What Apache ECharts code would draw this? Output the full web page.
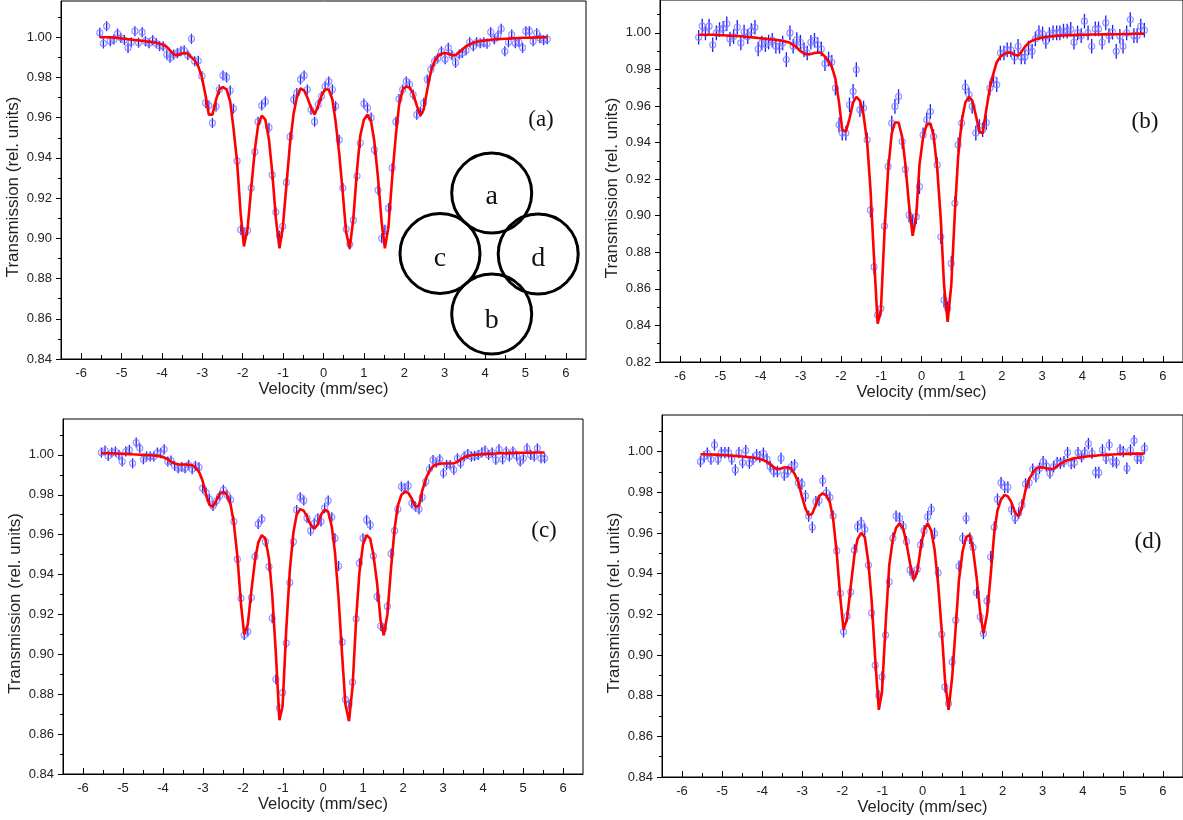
<!DOCTYPE html>
<html><head><meta charset="utf-8">
<script src="https://cdn.jsdelivr.net/npm/echarts@6.0.0/dist/echarts.min.js"></script>
<style>html,body{margin:0;padding:0;background:#fff}#c{width:1183px;height:820px}</style>
</head><body><div id="c"></div><script>
// Velocity channels (mm/sec), shared by all four spectra
const velocity = [-5.54,-5.45,-5.37,-5.28,-5.19,-5.10,-5.02,-4.93,-4.84,-4.76,
-4.67,-4.58,-4.49,-4.41,-4.32,-4.23,-4.14,-4.06,-3.97,-3.88,
-3.80,-3.71,-3.62,-3.53,-3.45,-3.36,-3.27,-3.19,-3.10,-3.01,
-2.92,-2.84,-2.75,-2.66,-2.58,-2.49,-2.40,-2.31,-2.23,-2.14,
-2.05,-1.97,-1.88,-1.79,-1.70,-1.62,-1.53,-1.44,-1.35,-1.27,
-1.18,-1.09,-1.01,-0.92,-0.83,-0.74,-0.66,-0.57,-0.48,-0.40,
-0.31,-0.22,-0.13,-0.05,0.04,0.13,0.22,0.30,0.39,0.48,
0.56,0.65,0.74,0.83,0.91,1.00,1.09,1.18,1.26,1.35,
1.44,1.52,1.61,1.70,1.79,1.87,1.96,2.05,2.13,2.22,
2.31,2.40,2.48,2.57,2.66,2.75,2.83,2.92,3.01,3.09,
3.18,3.27,3.36,3.44,3.53,3.62,3.71,3.79,3.88,3.97,
4.05,4.14,4.23,4.32,4.40,4.49,4.58,4.66,4.75,4.84,
4.93,5.01,5.10,5.19,5.28,5.36,5.45,5.54];

// Panel (a)
const dataA = [1.0022,0.9969,1.0055,0.9980,0.9989,1.0018,0.9997,0.9986,0.9947,0.9975,
1.0030,0.9973,1.0025,0.9980,0.9970,0.9985,0.9970,0.9956,0.9955,0.9914,
0.9898,0.9914,0.9920,0.9930,0.9935,0.9910,0.9992,0.9880,0.9883,0.9806,
0.9673,0.9660,0.9574,0.9655,0.9740,0.9810,0.9800,0.9735,0.9645,0.9385,
0.9043,0.9030,0.9040,0.9250,0.9430,0.9580,0.9660,0.9680,0.9550,0.9315,
0.9130,0.9013,0.9060,0.9278,0.9504,0.9690,0.9723,0.9790,0.9810,0.9740,
0.9640,0.9580,0.9665,0.9706,0.9756,0.9780,0.9740,0.9657,0.9490,0.9250,
0.9046,0.8970,0.9090,0.9310,0.9474,0.9670,0.9649,0.9600,0.9440,0.9240,
0.9000,0.9043,0.9150,0.9350,0.9580,0.9693,0.9740,0.9780,0.9765,0.9715,
0.9615,0.9630,0.9673,0.9790,0.9840,0.9880,0.9895,0.9930,0.9890,0.9947,
0.9910,0.9873,0.9914,0.9922,0.9935,0.9975,0.9955,0.9975,0.9970,0.9975,
0.9968,1.0025,0.9990,1.0008,1.0042,0.9930,0.9975,1.0013,0.9970,0.9975,
0.9947,1.0030,1.0030,0.9980,1.0020,0.9995,0.9985,0.9990];
const fitA = [1.0000,1.0000,1.0000,1.0000,0.9998,0.9996,0.9994,0.9992,0.9990,0.9988,
0.9986,0.9984,0.9982,0.9980,0.9978,0.9975,0.9972,0.9968,0.9962,0.9952,
0.9935,0.9915,0.9910,0.9918,0.9922,0.9918,0.9900,0.9885,0.9855,0.9800,
0.9710,0.9615,0.9615,0.9690,0.9740,0.9752,0.9740,0.9680,0.9550,0.9380,
0.9120,0.8960,0.9050,0.9250,0.9440,0.9560,0.9610,0.9590,0.9490,0.9330,
0.9100,0.8950,0.9050,0.9260,0.9470,0.9620,0.9700,0.9745,0.9735,0.9700,
0.9650,0.9615,0.9660,0.9710,0.9740,0.9740,0.9690,0.9580,0.9420,0.9220,
0.9030,0.8950,0.9100,0.9340,0.9510,0.9590,0.9615,0.9580,0.9480,0.9300,
0.9080,0.8950,0.9060,0.9300,0.9510,0.9660,0.9740,0.9755,0.9750,0.9720,
0.9660,0.9610,0.9640,0.9740,0.9830,0.9880,0.9905,0.9918,0.9922,0.9918,
0.9910,0.9910,0.9925,0.9940,0.9955,0.9965,0.9972,0.9978,0.9980,0.9983,
0.9985,0.9987,0.9989,0.9990,0.9991,0.9992,0.9993,0.9994,0.9995,0.9996,
0.9997,0.9997,0.9998,0.9998,0.9999,0.9999,1.0000,1.0000];
const errA = 0.0025;

// Panel (b)
const dataB = [0.9976,1.0037,1.0000,1.0037,0.9935,1.0000,1.0018,1.0025,1.0050,0.9967,
0.9980,1.0031,0.9945,1.0005,0.9980,1.0013,1.0031,0.9912,0.9945,0.9936,
0.9950,0.9960,0.9927,0.9927,0.9945,0.9854,1.0000,0.9927,0.9963,0.9949,
0.9908,0.9890,0.9949,0.9960,0.9936,0.9912,0.9832,0.9857,0.9839,0.9698,
0.9497,0.9452,0.9452,0.9607,0.9680,0.9799,0.9580,0.9589,0.9415,0.9031,
0.8720,0.8456,0.8492,0.8944,0.9269,0.9507,0.9598,0.9652,0.9406,0.9254,
0.9004,0.8967,0.8995,0.9159,0.9442,0.9525,0.9570,0.9433,0.9278,0.8885,
0.8538,0.8492,0.8739,0.9068,0.9388,0.9507,0.9704,0.9662,0.9598,0.9452,
0.9488,0.9470,0.9510,0.9698,0.9744,0.9717,0.9890,0.9890,0.9908,0.9908,
0.9868,0.9927,0.9868,0.9868,0.9918,0.9899,0.9967,1.0000,0.9995,0.9954,
0.9991,1.0000,1.0000,1.0000,1.0010,1.0010,1.0020,0.9949,1.0000,0.9985,
1.0064,1.0000,0.9927,1.0022,1.0022,0.9949,1.0055,0.9985,1.0004,0.9899,
0.9982,0.9927,1.0000,1.0073,0.9985,0.9985,1.0037,1.0015];
const fitB = [0.9990,0.9990,0.9990,0.9990,0.9990,0.9989,0.9988,0.9987,0.9986,0.9985,
0.9984,0.9983,0.9982,0.9980,0.9978,0.9976,0.9974,0.9972,0.9970,0.9968,
0.9966,0.9964,0.9962,0.9960,0.9956,0.9952,0.9946,0.9935,0.9920,0.9900,
0.9888,0.9883,0.9885,0.9890,0.9893,0.9890,0.9870,0.9845,0.9815,0.9750,
0.9620,0.9470,0.9460,0.9530,0.9620,0.9650,0.9630,0.9550,0.9400,0.9150,
0.8770,0.8410,0.8480,0.8910,0.9250,0.9450,0.9510,0.9510,0.9430,0.9280,
0.9060,0.8890,0.9000,0.9280,0.9430,0.9500,0.9505,0.9440,0.9260,0.8980,
0.8620,0.8420,0.8620,0.9020,0.9320,0.9520,0.9620,0.9650,0.9630,0.9550,
0.9460,0.9450,0.9580,0.9700,0.9780,0.9840,0.9870,0.9885,0.9892,0.9893,
0.9880,0.9876,0.9895,0.9925,0.9945,0.9958,0.9965,0.9970,0.9975,0.9978,
0.9980,0.9982,0.9984,0.9985,0.9986,0.9987,0.9988,0.9988,0.9989,0.9989,
0.9990,0.9990,0.9991,0.9991,0.9991,0.9992,0.9992,0.9992,0.9993,0.9993,
0.9993,0.9994,0.9994,0.9994,0.9995,0.9995,0.9995,0.9995];
const errB = 0.004;

// Panel (c)
const dataC = [1.0012,1.0022,0.9995,1.0012,1.0017,1.0000,0.9967,1.0017,1.0025,0.9958,
1.0062,1.0034,0.9978,0.9992,0.9992,0.9992,1.0012,1.0008,1.0028,0.9967,
0.9972,0.9945,0.9933,0.9940,0.9933,0.9950,0.9928,0.9945,0.9938,0.9833,
0.9811,0.9778,0.9744,0.9770,0.9795,0.9825,0.9800,0.9775,0.9666,0.9477,
0.9281,0.9097,0.9114,0.9285,0.9490,0.9654,0.9678,0.9565,0.9440,0.9181,
0.8875,0.8730,0.8808,0.9056,0.9360,0.9565,0.9724,0.9788,0.9771,0.9683,
0.9620,0.9657,0.9683,0.9666,0.9733,0.9771,0.9688,0.9582,0.9443,0.9061,
0.8774,0.8749,0.8860,0.9178,0.9457,0.9582,0.9674,0.9649,0.9494,0.9289,
0.9142,0.9130,0.9240,0.9504,0.9620,0.9728,0.9841,0.9833,0.9845,0.9758,
0.9741,0.9728,0.9788,0.9866,0.9928,0.9975,0.9961,0.9978,0.9908,0.9950,
0.9950,0.9925,0.9983,0.9958,0.9992,1.0005,0.9992,0.9995,1.0000,1.0012,
1.0022,1.0000,1.0012,0.9975,1.0028,0.9978,1.0017,0.9992,1.0017,0.9995,
0.9967,0.9983,1.0033,1.0000,0.9992,1.0033,0.9983,0.9983];
const fitC = [1.0008,1.0008,1.0008,1.0008,1.0007,1.0006,1.0005,1.0005,1.0004,1.0003,
1.0002,1.0001,1.0000,0.9999,0.9998,0.9997,0.9995,0.9992,0.9987,0.9978,
0.9966,0.9957,0.9953,0.9952,0.9952,0.9951,0.9948,0.9938,0.9915,0.9870,
0.9800,0.9750,0.9740,0.9775,0.9805,0.9815,0.9800,0.9750,0.9660,0.9490,
0.9250,0.9100,0.9150,0.9320,0.9470,0.9560,0.9598,0.9580,0.9480,0.9300,
0.9010,0.8670,0.8740,0.9120,0.9420,0.9610,0.9700,0.9728,0.9720,0.9690,
0.9650,0.9630,0.9650,0.9700,0.9725,0.9715,0.9640,0.9510,0.9280,0.8990,
0.8750,0.8665,0.8840,0.9180,0.9410,0.9550,0.9598,0.9580,0.9500,0.9360,
0.9170,0.9095,0.9200,0.9430,0.9630,0.9745,0.9800,0.9815,0.9810,0.9780,
0.9740,0.9745,0.9820,0.9880,0.9920,0.9942,0.9952,0.9956,0.9957,0.9957,
0.9957,0.9958,0.9965,0.9978,0.9988,0.9994,0.9998,1.0000,1.0002,1.0003,
1.0004,1.0005,1.0006,1.0007,1.0008,1.0008,1.0009,1.0010,1.0010,1.0010,
1.0011,1.0011,1.0011,1.0011,1.0012,1.0012,1.0012,1.0012];
const errC = 0.0025;

// Panel (d)
const dataD = [0.9951,0.9975,0.9992,0.9963,1.0033,0.9963,0.9995,0.9995,0.9995,0.9963,
0.9910,0.9995,0.9946,1.0005,0.9943,0.9963,0.9984,0.9975,0.9992,0.9963,
0.9926,0.9902,0.9902,0.9967,0.9885,0.9902,0.9926,0.9935,0.9847,0.9841,
0.9782,0.9683,0.9628,0.9754,0.9759,0.9857,0.9798,0.9775,0.9683,0.9513,
0.9303,0.9114,0.9191,0.9311,0.9516,0.9631,0.9650,0.9618,0.9442,0.9207,
0.8950,0.8800,0.8892,0.9098,0.9360,0.9574,0.9683,0.9672,0.9631,0.9557,
0.9418,0.9388,0.9421,0.9541,0.9611,0.9680,0.9716,0.9598,0.9404,0.9102,
0.8843,0.8761,0.8966,0.9171,0.9437,0.9574,0.9672,0.9574,0.9529,0.9306,
0.9188,0.9106,0.9266,0.9483,0.9628,0.9766,0.9847,0.9825,0.9825,0.9716,
0.9672,0.9697,0.9738,0.9841,0.9847,0.9913,0.9877,0.9918,0.9951,0.9930,
0.9894,0.9926,0.9946,0.9943,0.9951,0.9995,0.9941,0.9946,0.9995,0.9975,
0.9995,1.0039,0.9992,0.9897,0.9897,1.0008,0.9967,1.0033,0.9951,0.9946,
1.0008,1.0000,0.9918,1.0008,1.0054,0.9967,0.9967,1.0017];
const fitD = [0.9987,0.9987,0.9986,0.9986,0.9985,0.9984,0.9983,0.9982,0.9981,0.9980,
0.9979,0.9977,0.9976,0.9974,0.9972,0.9970,0.9967,0.9964,0.9958,0.9950,
0.9938,0.9922,0.9914,0.9917,0.9922,0.9923,0.9915,0.9890,0.9850,0.9780,
0.9720,0.9686,0.9695,0.9740,0.9780,0.9795,0.9785,0.9750,0.9670,0.9500,
0.9280,0.9125,0.9180,0.9340,0.9490,0.9570,0.9600,0.9580,0.9455,0.9270,
0.8980,0.8730,0.8820,0.9150,0.9440,0.9570,0.9625,0.9647,0.9620,0.9550,
0.9450,0.9370,0.9410,0.9520,0.9615,0.9647,0.9610,0.9520,0.9350,0.9120,
0.8880,0.8730,0.8890,0.9140,0.9370,0.9510,0.9580,0.9590,0.9520,0.9380,
0.9210,0.9105,0.9200,0.9390,0.9600,0.9710,0.9765,0.9787,0.9780,0.9750,
0.9700,0.9683,0.9725,0.9810,0.9865,0.9895,0.9915,0.9923,0.9922,0.9918,
0.9914,0.9916,0.9928,0.9940,0.9950,0.9958,0.9963,0.9967,0.9970,0.9973,
0.9975,0.9977,0.9979,0.9980,0.9982,0.9983,0.9984,0.9985,0.9986,0.9987,
0.9988,0.9988,0.9989,0.9989,0.9990,0.9990,0.9990,0.9991];
const errD = 0.0028;

// Tick values
const xMajorTicks = [-6,-5,-4,-3,-2,-1,0,1,2,3,4,5,6];
const xMinorTicks = [-5.5,-4.5,-3.5,-2.5,-1.5,-0.5,0.5,1.5,2.5,3.5,4.5,5.5];
const yMajorTicks = [0.84,0.86,0.88,0.90,0.92,0.94,0.96,0.98,1.00];
const yMinorTicks = [0.85,0.87,0.89,0.91,0.93,0.95,0.97,0.99,1.01];
const yMajorTicksB = [0.82,0.84,0.86,0.88,0.90,0.92,0.94,0.96,0.98,1.00];
const yMinorTicksB = [0.83,0.85,0.87,0.89,0.91,0.93,0.95,0.97,0.99,1.01];

const xTitle = 'Velocity (mm/sec)';
const yTitle = 'Transmission (rel. units)';
const panelLabels = ['(a)','(b)','(c)','(d)'];

const SANS = '"Liberation Sans", Arial, sans-serif';
const SERIF = '"Liberation Serif", "Times New Roman", serif';

const panels = [
  {data: dataA, fit: fitA, err: errA, ymin: 0.84, yMaj: yMajorTicks, yMin: yMinorTicks,
   grid: {left: 61, top: 1, width: 525, height: 358}, lab: [541, 120]},
  {data: dataB, fit: fitB, err: errB, ymin: 0.82, yMaj: yMajorTicksB, yMin: yMinorTicksB,
   grid: {left: 660, top: 0, width: 527, height: 362}, lab: [1145, 122]},
  {data: dataC, fit: fitC, err: errC, ymin: 0.84, yMaj: yMajorTicks, yMin: yMinorTicks,
   grid: {left: 63, top: 419, width: 520, height: 355}, lab: [544, 531]},
  {data: dataD, fit: fitD, err: errD, ymin: 0.84, yMaj: yMajorTicks, yMin: yMinorTicks,
   grid: {left: 662, top: 415, width: 528, height: 362}, lab: [1148, 542]}
];

const grids = [], xAxes = [], yAxes = [], series = [];
panels.forEach((p, k) => {
  grids.push(Object.assign({show: true, borderColor: '#000', borderWidth: 1, backgroundColor: 'transparent'}, p.grid));
  xAxes.push({
    gridIndex: k, type: 'value', min: -6.5, max: 6.5, position: 'bottom',
    axisLine: {show: true, onZero: false, lineStyle: {color: '#000', width: 1}},
    splitLine: {show: false},
    axisTick: {show: true, inside: true, length: 6, customValues: xMajorTicks, lineStyle: {color: '#000'}},
    axisLabel: {customValues: xMajorTicks, margin: 8, fontFamily: SANS, fontSize: 13, color: '#222',
                formatter: v => String(v)},
    name: xTitle, nameLocation: 'middle', nameGap: 22,
    nameTextStyle: {fontFamily: SANS, fontSize: 16.5, color: '#222'}
  });
  xAxes.push({
    gridIndex: k, type: 'value', min: -6.5, max: 6.5, position: 'bottom',
    axisLine: {show: false, onZero: false}, splitLine: {show: false}, axisLabel: {show: false},
    axisTick: {show: true, inside: true, length: 4, customValues: xMinorTicks, lineStyle: {color: '#000'}}
  });
  yAxes.push({
    gridIndex: k, type: 'value', min: p.ymin, max: 1.018, position: 'left',
    axisLine: {show: true, onZero: false, lineStyle: {color: '#000', width: 1}},
    splitLine: {show: false},
    axisTick: {show: true, inside: false, length: 5, customValues: p.yMaj, lineStyle: {color: '#000'}},
    axisLabel: {customValues: p.yMaj, margin: 9, fontFamily: SANS, fontSize: 13, color: '#222',
                formatter: v => v.toFixed(2)},
    name: yTitle, nameLocation: 'middle', nameGap: 39,
    nameTextStyle: {fontFamily: SANS, fontSize: 17, color: '#222', padding: [0, 14, 0, 0]}
  });
  yAxes.push({
    gridIndex: k, type: 'value', min: p.ymin, max: 1.018, position: 'left',
    axisLine: {show: false, onZero: false}, splitLine: {show: false}, axisLabel: {show: false},
    axisTick: {show: true, inside: false, length: 3, customValues: p.yMin, lineStyle: {color: '#000'}}
  });
  const pts = velocity.map((v, i) => [v, p.data[i]]);
  const err = p.err;
  series.push({
    type: 'custom', xAxisIndex: 2 * k, yAxisIndex: 2 * k, data: pts, z: 2, silent: true,
    clip: true,
    renderItem: (params, api) => {
      const x = api.value(0), y = api.value(1);
      const a = api.coord([x, y - err]), b = api.coord([x, y + err]);
      return {type: 'line', shape: {x1: a[0], y1: a[1], x2: b[0], y2: b[1]},
              style: {stroke: '#1a1aff', lineWidth: 1.3}};
    }
  });
  series.push({
    type: 'scatter', xAxisIndex: 2 * k, yAxisIndex: 2 * k, data: pts, z: 3, silent: true,
    symbol: 'circle', symbolSize: 6,
    itemStyle: {color: 'rgba(255,255,255,0)', borderColor: '#7d7dff', borderWidth: 1.2}
  });
  series.push({
    type: 'line', xAxisIndex: 2 * k, yAxisIndex: 2 * k, z: 4, silent: true,
    data: velocity.map((v, i) => [v, p.fit[i]]),
    symbol: 'none', showSymbol: false, smooth: false,
    lineStyle: {color: '#ff0000', width: 2.6}
  });
});

const graphics = [];
panels.forEach((p, k) => {
  graphics.push({type: 'text', x: p.lab[0], y: p.lab[1], z: 10,
    style: {text: panelLabels[k], font: '23px ' + SERIF, fill: '#111',
            align: 'center', verticalAlign: 'middle', textAlign: 'center', textVerticalAlign: 'middle'}});
});
const circles = [[491.7, 193, 'a', 197], [491.7, 314, 'b', 320.5], [440, 253.5, 'c', 259], [538.2, 254, 'd', 259]];
circles.forEach((c) => {
  graphics.push({type: 'circle', shape: {cx: c[0], cy: c[1], r: 40}, z: 10,
    style: {fill: 'none', stroke: '#000', lineWidth: 3}});
  graphics.push({type: 'text', x: c[0], y: c[3], z: 11,
    style: {text: c[2], font: '28px ' + SERIF, fill: '#111',
            align: 'center', verticalAlign: 'middle', textAlign: 'center', textVerticalAlign: 'middle'}});
});

const chart = echarts.init(document.getElementById('c'), null, {renderer: 'canvas'});
chart.setOption({
  animation: false,
  backgroundColor: '#fff',
  grid: grids, xAxis: xAxes, yAxis: yAxes, series: series,
  graphic: graphics
});
</script></body></html>
